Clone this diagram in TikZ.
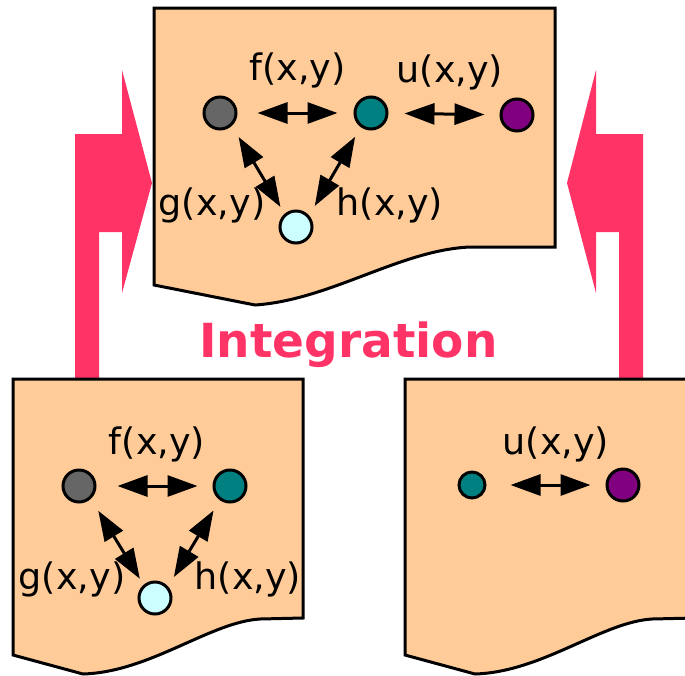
\documentclass[tikz,border=0pt]{standalone}
\usepackage{fontspec}
\setmainfont{DejaVu Sans}
\usetikzlibrary{arrows.meta}
\definecolor{peach}{HTML}{FFCC99}
\definecolor{pinkred}{HTML}{FF3366}
\definecolor{ngray}{HTML}{666666}
\definecolor{nteal}{HTML}{008080}
\definecolor{npurple}{HTML}{800080}
\definecolor{ncyan}{HTML}{CCFFFF}
\tikzset{
  docbox/.style={fill=peach, draw=black, line width=3pt},
  bigarrow/.style={fill=pinkred, draw=none},
  dot/.style={circle, draw=black, line width=3pt, minimum size=32pt, inner sep=0pt},
  smalldot/.style={dot, minimum size=26pt},
  lbl/.style={font=\fontsize{36.5}{40}\selectfont, inner sep=0pt},
  dbl/.style={{Triangle[length=30pt,width=21pt]}-{Triangle[length=30pt,width=21pt]}, line width=3pt, draw=black}
}
\begin{document}
\begin{tikzpicture}[x=1pt,y=-1pt]
\useasboundingbox (0,0) rectangle (685,675);
% big pink arrows
\fill[bigarrow] (75,378) -- (75,134) -- (122,134) -- (122,70) -- (152,183) -- (122,293) -- (122,232) -- (99,232) -- (99,378) -- cycle;
\fill[bigarrow] (643,378) -- (643,134) -- (596,134) -- (596,70) -- (567,183) -- (596,293) -- (596,232) -- (619,232) -- (619,378) -- cycle;
% documents
\draw[docbox] (154,8) -- (555,8) -- (555,247) -- (470,247) .. controls (400,250) and (330,300) .. (255,305) -- (154,285) -- cycle;
\draw[docbox] (13,379) -- (303,379) -- (303,618) -- (260,619) .. controls (210,622) and (150,672) .. (83,674) -- (13,655) -- cycle;
\draw[docbox] (405,379) -- (695,379) -- (695,618) -- (652,619) .. controls (602,622) and (542,672) .. (475,674) -- (405,655) -- cycle;
% Integration
\node[anchor=base, text=pinkred, inner sep=0pt, font=\bfseries\fontsize{47}{50}\selectfont] (integ) at (348.5,357) {Integration};
% top document
\node[dot, fill=ngray] (tg) at (220,113) {};
\node[dot, fill=nteal] (tt) at (371,113) {};
\node[dot, fill=npurple] (tp) at (517,115) {};
\node[dot, fill=ncyan] (tc) at (296,227) {};
\draw[dbl, shorten <=20pt, shorten >=16pt] (tg) -- (tt);
\draw[dbl, shorten <=16pt, shorten >=15pt] (tt) -- (tp);
\draw[dbl, shorten <=13pt, shorten >=8pt] (tg.-47) -- (tc.131);
\draw[dbl, shorten <=11pt, shorten >=11pt] (tt.-126) -- (tc.41);
\node[lbl] (tf) at (297.5,70) {f(x,y)};
\node[lbl] (tu) at (450,72) {u(x,y)};
\node[lbl] (tgl) at (212,205) {g(x,y)};
\node[lbl] (thl) at (390,205) {h(x,y)};
% lower-left document
\node[dot, fill=ngray] (lg) at (79,486) {};
\node[dot, fill=nteal] (lt) at (230,486) {};
\node[dot, fill=ncyan] (lc) at (155,598) {};
\draw[dbl, shorten <=21pt, shorten >=15pt] (lg) -- (lt);
\draw[dbl, shorten <=14pt, shorten >=7pt] (lg.-47) -- (lc.131);
\draw[dbl, shorten <=12pt, shorten >=11pt] (lt.-126) -- (lc.41);
\node[lbl] (lf) at (157,444) {f(x,y)};
\node[lbl] (lgl) at (72,579) {g(x,y)};
\node[lbl] (lhl) at (248,579) {h(x,y)};
% lower-right document
\node[smalldot, fill=nteal] (rt) at (472,485) {};
\node[dot, fill=npurple] (rp) at (623,485) {};
\draw[dbl, shorten <=24pt, shorten >=15pt] (rt) -- (rp);
\node[lbl] (ru) at (556,444) {u(x,y)};
\end{tikzpicture}
\end{document}
